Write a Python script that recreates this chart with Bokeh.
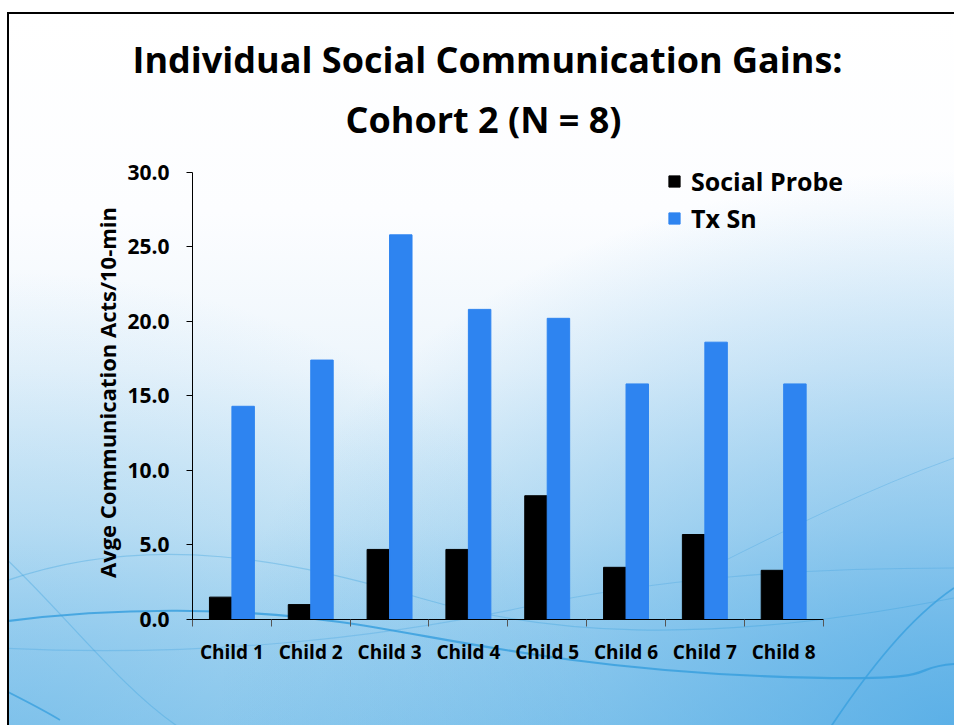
from bokeh.plotting import figure
from bokeh.models import (Range1d, LinearAxis, FixedTicker, Title,
                          Legend, LegendItem, ColumnDataSource, NumeralTickFormatter)
from bokeh.transform import dodge
from bokeh.embed import file_html
from bokeh.resources import INLINE

# ---- data ----
children = ["Child 1", "Child 2", "Child 3", "Child 4", "Child 5", "Child 6", "Child 7", "Child 8"]
social_probe = [1.5, 1.0, 4.7, 4.7, 8.3, 3.5, 5.7, 3.3]
tx_sn = [14.3, 17.4, 25.8, 20.8, 20.2, 15.8, 18.6, 15.8]
y_ticks = [0, 5, 10, 15, 20, 25, 30]
series_names = ["Social Probe", "Tx Sn"]
title_lines = ["Individual Social Communication Gains:", "Cohort 2 (N = 8)"]
y_label = "Avge Communication Acts/10-min"

BLACK = "#000000"
BLUE = "#2e84f0"
FONT = "Open Sans"
TITLE_FONT = "Open Sans"

n = len(children)
centers = [i + 0.5 for i in range(n)]
src = ColumnDataSource(dict(pos=centers, social=social_probe, tx=tx_sn))

W, H = 954, 725
# the frame extends a little above 30 and right of the last category so the legend fits;
# axes are bounded to the data extent
p = figure(width=W, height=H, x_range=Range1d(0, n + 0.5),
           y_range=Range1d(y_ticks[0], y_ticks[-1] + 0.45), x_axis_location=None,
           output_backend="svg", toolbar_location=None,
           min_border_left=192, min_border_right=92, min_border_top=165, min_border_bottom=106)

# transparent canvas over a CSS slide background
curves = (
    "<svg xmlns='http://www.w3.org/2000/svg' width='947' height='713' viewBox='7 12 947 713'>"
    "<g fill='none' stroke='%233aa0de'>"
    "<path d='M0 622 C120 606 240 608 340 622 S560 668 760 676 S900 668 954 664' stroke-width='2.2' stroke-opacity='0.85'/>"
    "<path d='M0 583 C150 528 300 563 420 598 S700 648 954 598' stroke-width='1.2' stroke-opacity='0.35'/>"
    "<path d='M0 648 C200 658 380 638 520 608 S800 568 954 568' stroke-width='1.2' stroke-opacity='0.3'/>"
    "<path d='M0 553 C60 608 120 688 180 728' stroke-width='1.2' stroke-opacity='0.35'/>"
    "<path d='M830 728 C870 668 910 618 954 588' stroke-width='1.8' stroke-opacity='0.8'/>"
    "<path d='M710 568 C790 528 870 488 954 458' stroke-width='1' stroke-opacity='0.3'/>"
    "<path d='M0 688 C20 698 40 708 60 720' stroke-width='1.6' stroke-opacity='0.8'/>"
    "</g></svg>"
)
p.styles = {
    "background-image": (
        "linear-gradient(#000,#000), linear-gradient(#000,#000), "
        f"url(\"data:image/svg+xml;utf8,{curves}\"), "
        "radial-gradient(ellipse at 100% 100%, rgba(70,165,228,0.75) 0%, rgba(70,165,228,0) 55%), "
        "radial-gradient(ellipse at 0% 100%, rgba(90,175,230,0.45) 0%, rgba(90,175,230,0) 45%), "
        "linear-gradient(to bottom, #ffffff 0%, #fcfdff 28%, #eef6fc 50%, #d3eaf7 72%, #b0daf2 88%, #9dd1ef 100%)"
    ),
    "background-repeat": "no-repeat",
    "background-position": "7px 12px, 7px 12px, 7px 12px, 7px 12px, 7px 12px, 7px 12px",
    "background-size": "100% 2px, 2px 100%, 947px 713px, 947px 713px, 947px 713px, 947px 713px",
}
p.background_fill_alpha = 0
p.border_fill_alpha = 0
p.outline_line_color = None
p.grid.visible = False

# bars
r1 = p.vbar(x=dodge("pos", -0.1425), top="social", width=0.285,
            source=src, fill_color=BLACK, line_color=BLACK)
r2 = p.vbar(x=dodge("pos", 0.1425), top="tx", width=0.285,
            source=src, fill_color=BLUE, line_color=BLUE)

# y axis
ya = p.yaxis[0]
ya.ticker = FixedTicker(ticks=y_ticks)
ya.bounds = (y_ticks[0], y_ticks[-1])
ya.formatter = NumeralTickFormatter(format="0.0")
ya.major_tick_out = 6
ya.major_tick_in = 0
ya.minor_tick_line_color = None
ya.axis_line_color = "#000000"
ya.major_tick_line_color = "#000000"
ya.major_label_text_font = FONT
ya.major_label_text_font_style = "bold"
ya.major_label_text_font_size = "21px"
ya.major_label_text_color = "#000000"
ya.major_label_standoff = 17
ya.axis_label = y_label
ya.axis_label_text_font = FONT
ya.axis_label_text_font_style = "bold"
ya.axis_label_text_font_size = "22px"
ya.axis_label_text_color = "#000000"
ya.axis_label_standoff = 2

# x axis: boundary ticks + category labels
tick_axis = LinearAxis(ticker=FixedTicker(ticks=list(range(n + 1))), bounds=(0, n),
                       major_tick_out=7, major_tick_in=0, minor_tick_line_color=None,
                       axis_line_color="#000000", major_tick_line_color="#555555",
                       major_label_text_font_size="1px", major_label_text_alpha=0,
                       major_label_standoff=0)
p.add_layout(tick_axis, "below")
cat_axis = LinearAxis(ticker=FixedTicker(ticks=centers), bounds=(0, n),
                      major_label_overrides={c: name for c, name in zip(centers, children)},
                      axis_line_color=None, major_tick_line_color=None,
                      minor_tick_line_color=None,
                      major_label_text_font=FONT, major_label_text_font_style="bold",
                      major_label_text_font_size="19px", major_label_text_color="#000000",
                      major_label_standoff=6)
p.add_layout(cat_axis, "below")

# legend
legend = Legend(items=[LegendItem(label=series_names[0], renderers=[r1]),
                       LegendItem(label=series_names[1], renderers=[r2])],
                location=(475, 384), orientation="vertical",
                glyph_width=14, glyph_height=14, label_height=30, spacing=3,
                label_standoff=10, padding=0, margin=0,
                label_text_font=FONT, label_text_font_style="bold", label_text_font_size="25px",
                label_text_color="#000000",
                border_line_alpha=0, background_fill_alpha=0)
p.add_layout(legend)

# title (two lines, stacked above the plot)
p.add_layout(Title(text=title_lines[1], align="left", offset=153, standoff=44,
                   text_font=TITLE_FONT, text_font_style="bold", text_font_size="36px",
                   text_color="#000000"), "above")
p.add_layout(Title(text=title_lines[0], align="left", offset=-60, standoff=-27,
                   text_font=TITLE_FONT, text_font_style="bold", text_font_size="36px",
                   text_color="#000000"), "above")

open("out.html", "w").write(file_html(p, INLINE))
